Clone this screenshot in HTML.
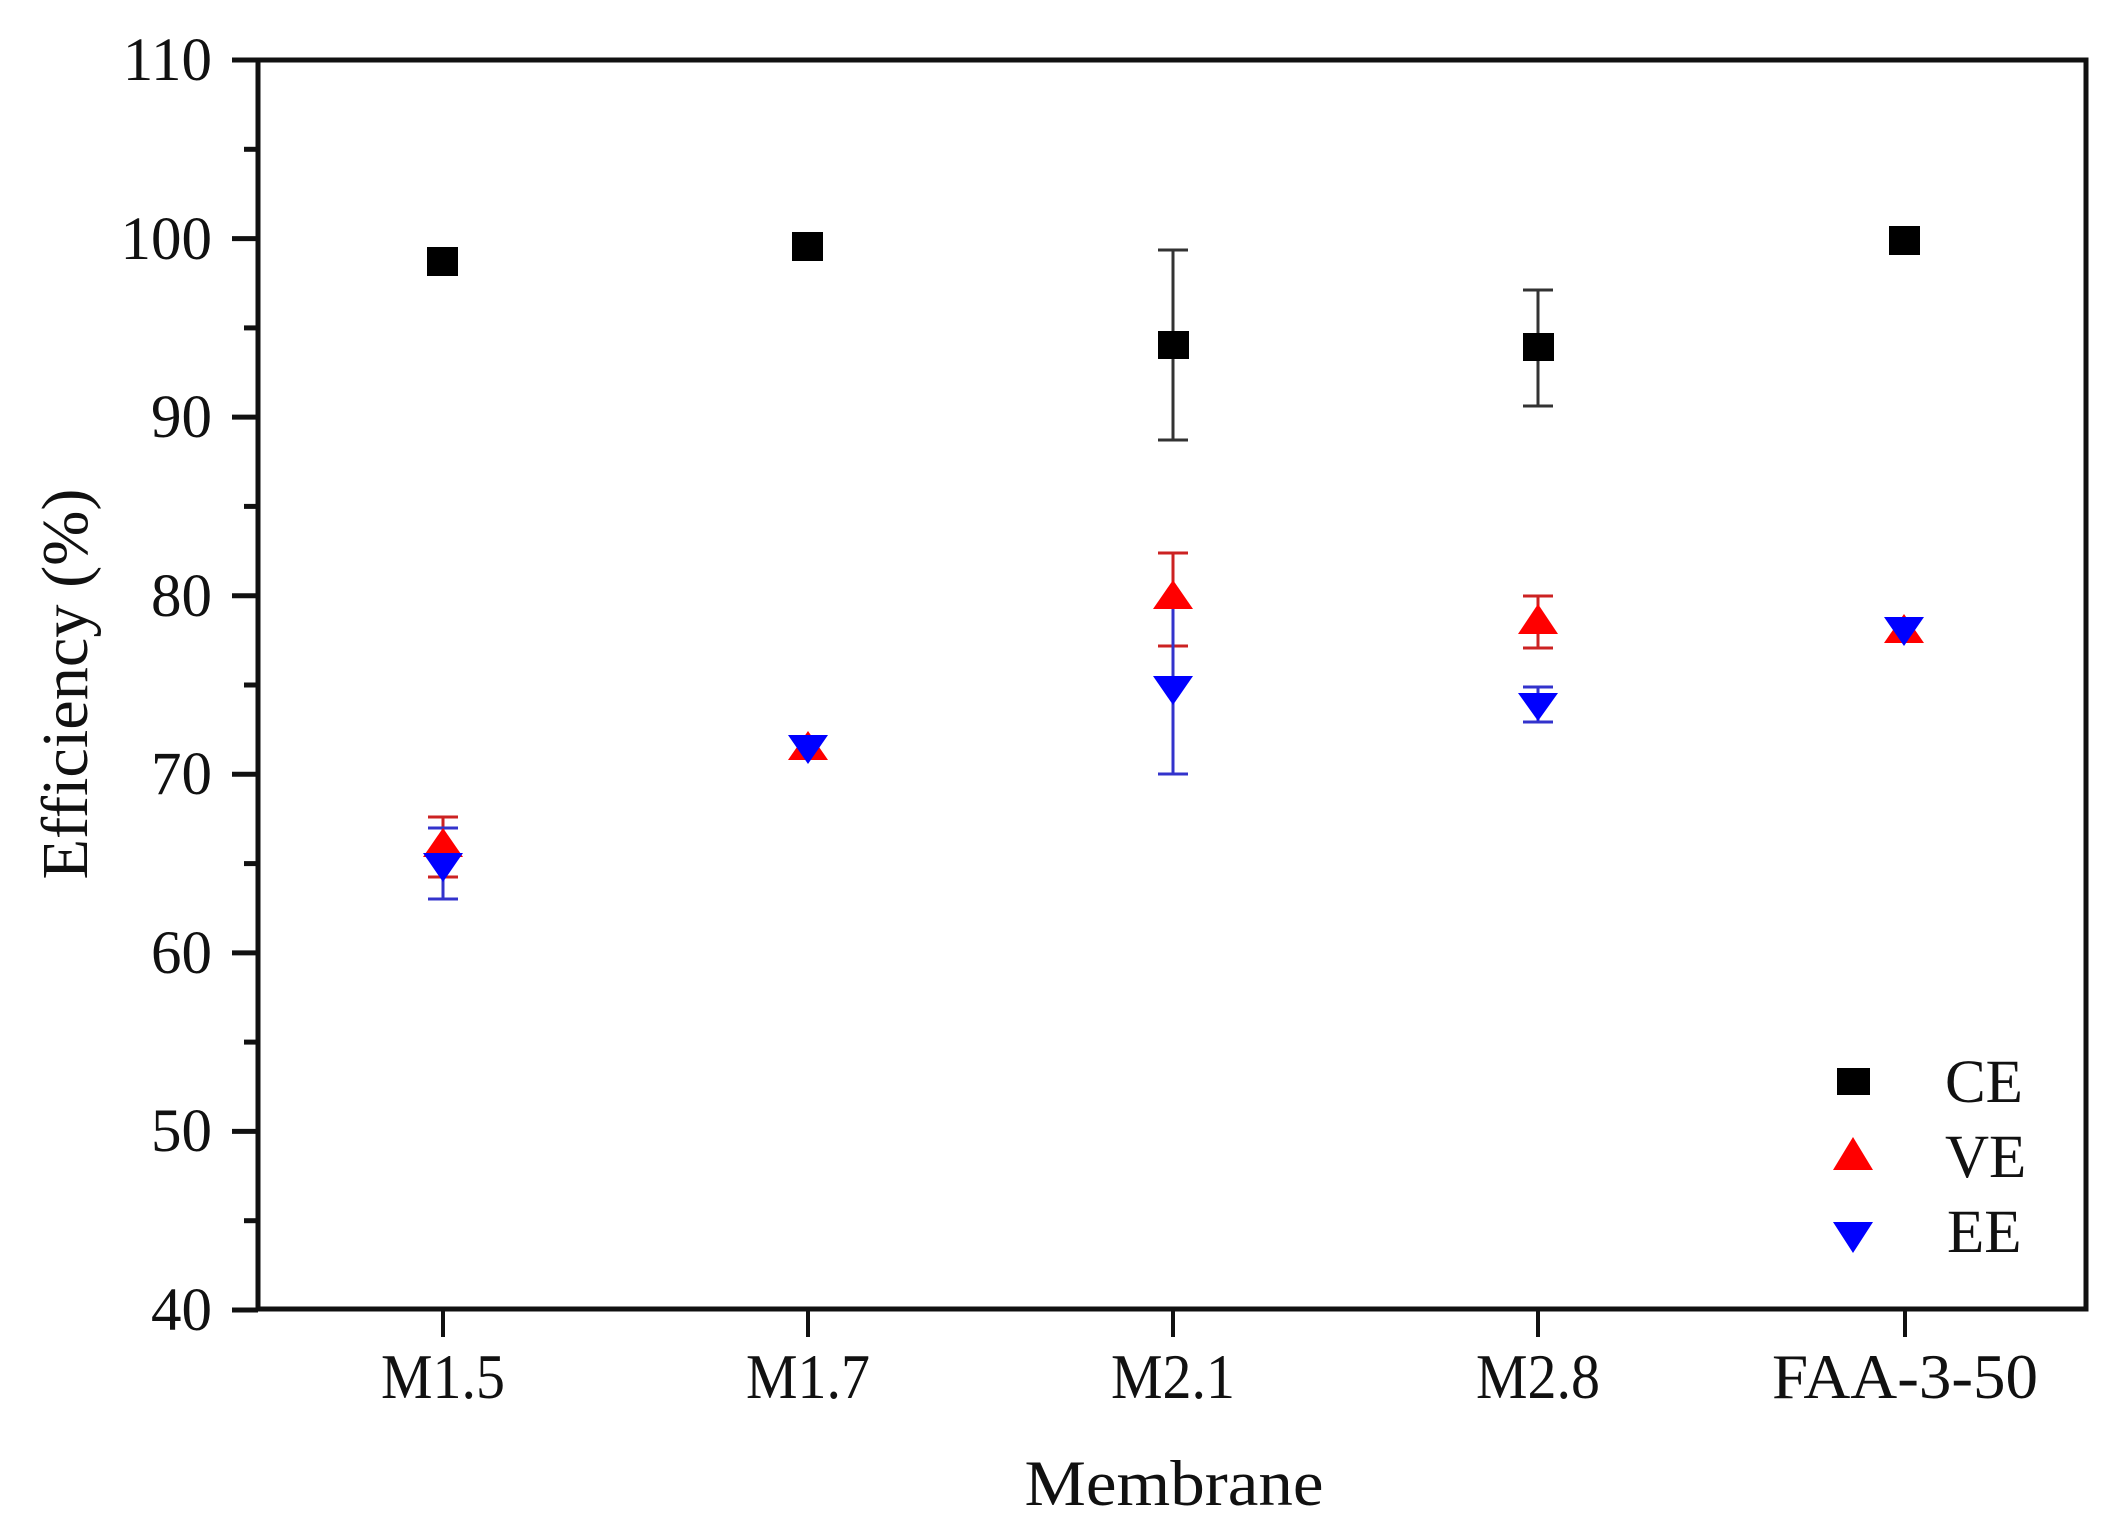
<!DOCTYPE html>
<html><head><meta charset="utf-8"><style>
html,body{margin:0;padding:0;background:#fff;}
svg{display:block;}
text{font-family:"Liberation Serif","DejaVu Serif",serif;fill:#111;}
</style></head><body>
<svg width="2115" height="1539" viewBox="0 0 2115 1539" xmlns="http://www.w3.org/2000/svg">
<rect width="2115" height="1539" fill="#fff"/>
<rect x="258" y="60" width="1828" height="1249" fill="none" stroke="#111" stroke-width="5"/>
<g stroke="#111" stroke-width="5">
<line x1="232" y1="60" x2="258" y2="60"/>
<line x1="232" y1="238.6" x2="258" y2="238.6"/>
<line x1="232" y1="417.1" x2="258" y2="417.1"/>
<line x1="232" y1="595.7" x2="258" y2="595.7"/>
<line x1="232" y1="774.3" x2="258" y2="774.3"/>
<line x1="232" y1="952.9" x2="258" y2="952.9"/>
<line x1="232" y1="1131.4" x2="258" y2="1131.4"/>
<line x1="232" y1="1310" x2="258" y2="1310"/>
<line x1="244" y1="149.3" x2="258" y2="149.3"/>
<line x1="244" y1="327.9" x2="258" y2="327.9"/>
<line x1="244" y1="506.4" x2="258" y2="506.4"/>
<line x1="244" y1="685" x2="258" y2="685"/>
<line x1="244" y1="863.6" x2="258" y2="863.6"/>
<line x1="244" y1="1042.1" x2="258" y2="1042.1"/>
<line x1="244" y1="1220.7" x2="258" y2="1220.7"/>
</g>
<g stroke="#111" stroke-width="4">
<line x1="443" y1="1310" x2="443" y2="1337"/>
<line x1="808" y1="1310" x2="808" y2="1337"/>
<line x1="1173" y1="1310" x2="1173" y2="1337"/>
<line x1="1538" y1="1310" x2="1538" y2="1337"/>
<line x1="1905" y1="1310" x2="1905" y2="1337"/>
</g>
<g font-size="61" text-anchor="end">
<text x="212" y="80">110</text>
<text x="212" y="259">100</text>
<text x="212" y="437">90</text>
<text x="212" y="616">80</text>
<text x="212" y="794">70</text>
<text x="212" y="973">60</text>
<text x="212" y="1151">50</text>
<text x="212" y="1330">40</text>
</g>
<g font-size="63" text-anchor="middle">
<text x="443" y="1398" textLength="124" lengthAdjust="spacingAndGlyphs">M1.5</text>
<text x="808" y="1398" textLength="124" lengthAdjust="spacingAndGlyphs">M1.7</text>
<text x="1173" y="1398" textLength="124" lengthAdjust="spacingAndGlyphs">M2.1</text>
<text x="1538" y="1398" textLength="124" lengthAdjust="spacingAndGlyphs">M2.8</text>
<text x="1905" y="1398" textLength="266" lengthAdjust="spacingAndGlyphs">FAA-3-50</text>
</g>
<text x="1174" y="1505" font-size="65" text-anchor="middle" textLength="299" lengthAdjust="spacingAndGlyphs">Membrane</text>
<text transform="translate(87,684) rotate(-90)" font-size="66" text-anchor="middle" textLength="391" lengthAdjust="spacingAndGlyphs">Efficiency (%)</text>

<g stroke="#333" stroke-width="3">
<line x1="1173" y1="250" x2="1173" y2="440"/><line x1="1158" y1="250" x2="1188" y2="250"/><line x1="1158" y1="440" x2="1188" y2="440"/>
<line x1="1538" y1="290" x2="1538" y2="406"/><line x1="1523" y1="290" x2="1553" y2="290"/><line x1="1523" y1="406" x2="1553" y2="406"/>
</g>
<g stroke="#c22" stroke-width="3">
<line x1="443" y1="817" x2="443" y2="845"/><line x1="428" y1="817" x2="458" y2="817"/><line x1="428" y1="877" x2="458" y2="877"/>
<line x1="1173" y1="553" x2="1173" y2="646"/><line x1="1158" y1="553" x2="1188" y2="553"/><line x1="1158" y1="646" x2="1188" y2="646"/>
<line x1="1538" y1="596" x2="1538" y2="648"/><line x1="1523" y1="596" x2="1553" y2="596"/><line x1="1523" y1="648" x2="1553" y2="648"/>
</g>
<g stroke="#33c" stroke-width="3">
<line x1="443" y1="828" x2="443" y2="899"/><line x1="428" y1="899" x2="458" y2="899"/><line x1="428" y1="828" x2="458" y2="828"/>
<line x1="1173" y1="600" x2="1173" y2="774"/><line x1="1158" y1="774" x2="1188" y2="774"/>
<line x1="1538" y1="687" x2="1538" y2="722"/><line x1="1523" y1="687" x2="1553" y2="687"/><line x1="1523" y1="722" x2="1553" y2="722"/>
</g>

<g fill="#000">
<rect x="427" y="247" width="31" height="29"/>
<rect x="792" y="232" width="31" height="29"/>
<rect x="1158" y="331" width="31" height="28"/>
<rect x="1523" y="333" width="31" height="28"/>
<rect x="1889" y="226" width="31" height="29"/>
</g>
<g fill="#f00">
<polygon points="443,828 463,857 423,857"/>
<polygon points="808,731 828,760 788,760"/>
<polygon points="1173,580 1193,609 1153,609"/>
<polygon points="1538,604 1558,634 1518,634"/>
<polygon points="1904,614 1924,643 1884,643"/>
</g>
<g fill="#00f">
<polygon points="423,853 463,853 443,882"/>
<polygon points="788,735 828,735 808,764"/>
<polygon points="1153,676 1193,676 1173,705"/>
<polygon points="1518,693 1558,693 1538,721"/>
<polygon points="1884,617 1924,617 1904,646"/>
</g>

<rect x="1837" y="1068" width="33" height="27" fill="#000"/>
<polygon points="1853,1137 1873,1170 1833,1170" fill="#f00"/>
<polygon points="1833,1222 1873,1222 1853,1253" fill="#00f"/>
<g font-size="61">
<text x="1945" y="1102">CE</text>
<text x="1945" y="1177">VE</text>
<text x="1947" y="1252">EE</text>
</g>
</svg>
</body></html>
